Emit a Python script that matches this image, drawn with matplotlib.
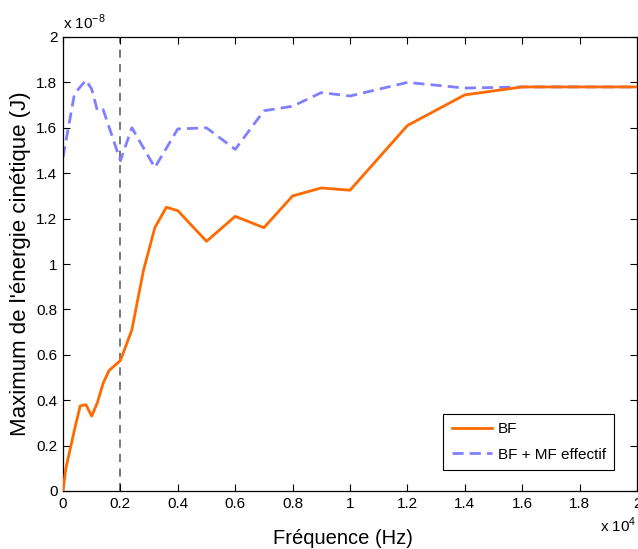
import matplotlib
matplotlib.use("Agg")
import matplotlib.pyplot as plt
from matplotlib.ticker import FuncFormatter, FixedLocator

plt.rcParams['font.family'] = ['Liberation Sans', 'DejaVu Sans']

# Data (frequency in Hz, energy in J)
freq_bf = [0, 100, 400, 600, 800, 1000, 1200, 1400, 1600, 2000, 2400, 2800,
           3200, 3600, 4000, 5000, 6000, 7000, 8000, 9000, 10000, 12000,
           14000, 16000, 20000]
energy_bf = [0.0, 0.10, 0.27, 0.375, 0.38, 0.33, 0.39, 0.475, 0.53, 0.575,
             0.71, 0.97, 1.16, 1.25, 1.235, 1.10, 1.21, 1.16, 1.30, 1.335,
             1.325, 1.61, 1.745, 1.78, 1.78]
energy_bf = [v * 1e-8 for v in energy_bf]

freq_mf = [0, 400, 800, 1000, 1200, 1400, 2000, 2400, 3200, 4000, 5000,
           6000, 7000, 8000, 9000, 10000, 12000, 14000, 16000, 20000]
energy_mf = [1.47, 1.75, 1.81, 1.77, 1.675, 1.68, 1.455, 1.60, 1.425, 1.595,
             1.60, 1.505, 1.675, 1.695, 1.755, 1.74, 1.80, 1.775, 1.78, 1.78]
energy_mf = [v * 1e-8 for v in energy_mf]

cutoff_freq = 2000

x_ticks = [i * 2000 for i in range(11)]
y_ticks = [i * 0.2e-8 for i in range(11)]

fig = plt.figure(figsize=(6.38, 5.49), dpi=100)
ax = fig.add_axes([63 / 638, 58 / 549, 574 / 638, 454 / 549])

ax.axvline(cutoff_freq, color='#6e6e6e', lw=1.3, ls=(0, (4.5, 3.5)), zorder=1)
ax.plot(freq_bf, energy_bf, color='#ff6a00', lw=2.0, label='BF', zorder=3)
ax.plot(freq_mf, energy_mf, color='#8080ff', lw=2.0, ls=(0, (4, 2.2)),
        label='BF + MF effectif', zorder=2)

ax.set_xlim(0, 20000)
ax.set_ylim(0, 2e-8)
ax.xaxis.set_major_locator(FixedLocator(x_ticks))
ax.yaxis.set_major_locator(FixedLocator(y_ticks))
ax.xaxis.set_major_formatter(FuncFormatter(lambda v, p: '%g' % round(v / 1e4, 3)))
ax.yaxis.set_major_formatter(FuncFormatter(lambda v, p: '%g' % round(v / 1e-8, 3)))
ax.tick_params(direction='in', top=True, right=True, length=5, width=0.8,
               labelsize=11, pad=4)
for s in ax.spines.values():
    s.set_linewidth(0.9)

ax.set_xlabel('Fréquence (Hz)', fontsize=14.5, labelpad=14)
ax.set_ylabel("Maximum de l'énergie cinétique (J)", fontsize=16, labelpad=4)
ax.xaxis.set_label_coords(0.487, -0.083, transform=ax.transAxes)
ax.xaxis.label.set_va('top')

ax.text(0.0, 1.012, r'x 10$^{\mathregular{-8}}$', transform=ax.transAxes,
        fontsize=11, ha='left', va='bottom')
ax.text(1.0, -0.055, r'x 10$^{\mathregular{4}}$', transform=ax.transAxes,
        fontsize=11, ha='right', va='top')

leg = ax.legend(loc='lower right', bbox_to_anchor=(0.96, 0.046),
                borderaxespad=0, fontsize=11, handlelength=2.65,
                fancybox=False, edgecolor='black', framealpha=1,
                borderpad=0.55, labelspacing=0.75, handletextpad=0.35)
leg.get_frame().set_linewidth(0.8)

fig.savefig('out.png', dpi=100)
